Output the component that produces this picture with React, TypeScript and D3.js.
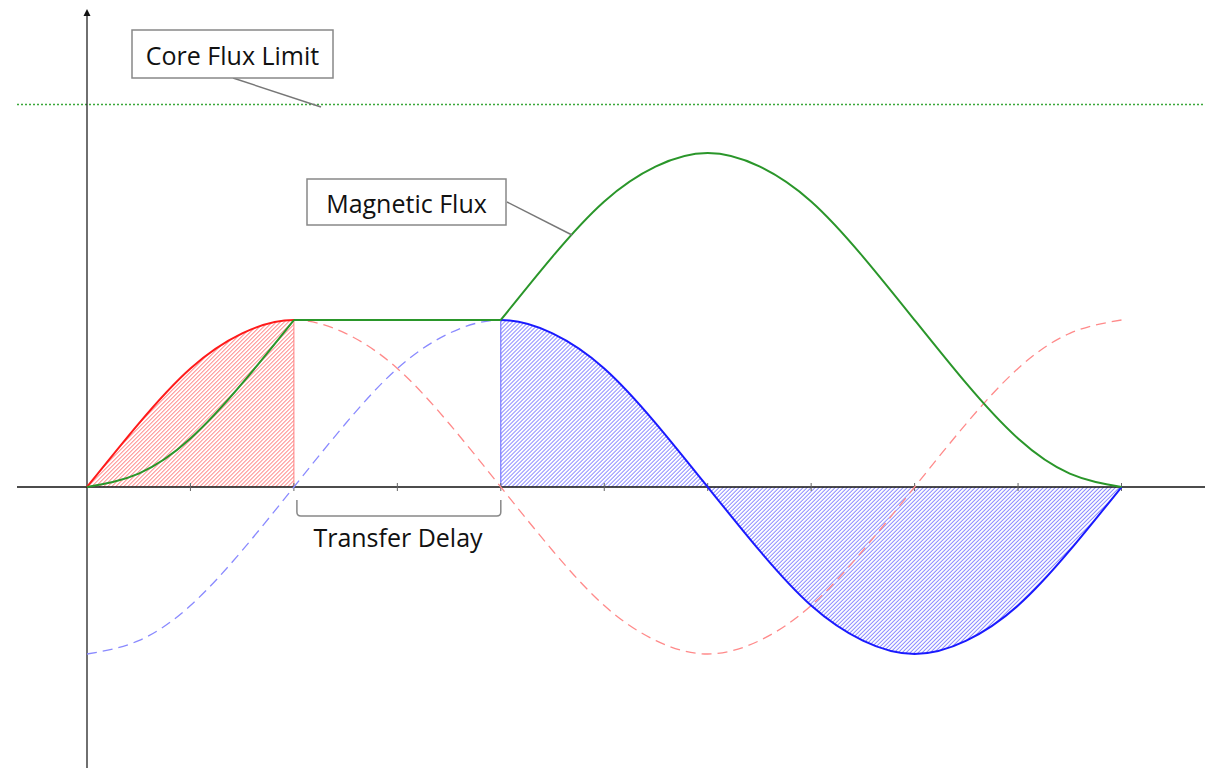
import React from "react";
import * as d3 from "d3";

// phase positions in tick units (one tick = quarter of a half-cycle, π/4)
const PHASE = [0, 0.5, 1, 1.5, 2, 2.5, 3, 3.5, 4, 4.5, 5, 5.5, 6, 6.5, 7, 7.5, 8, 8.5, 9, 9.5, 10];
const TICKS = [1, 2, 3, 4, 5, 6, 7, 8, 9, 10];
// primary voltage (red)
const RED = [0, 0.38, 0.71, 0.92, 1, 0.92, 0.71, 0.38, 0, -0.38, -0.71, -0.92, -1, -0.92, -0.71, -0.38, 0, 0.38, 0.71, 0.92, 1];
// second source (blue)
const BLUE = [-1, -0.92, -0.71, -0.38, 0, 0.38, 0.71, 0.92, 1, 0.92, 0.71, 0.38, 0, -0.38, -0.71, -0.92, -1, -0.92, -0.71, -0.38, 0];
// magnetic flux (green)
const FLUX = [0, 0.08, 0.29, 0.62, 1, 1, 1, 1, 1, 1.38, 1.71, 1.92, 2, 1.92, 1.71, 1.38, 1, 0.62, 0.29, 0.08, 0];
const CORE_LIMIT = 2.29;
const RED_SOLID_END = 2; // tick where red solid ends
const BLUE_SOLID_START = 4; // tick where blue solid starts
const LABEL_CORE = "Core Flux Limit";
const LABEL_FLUX = "Magnetic Flux";
const LABEL_DELAY = "Transfer Delay";

const W = 1205;
const H = 768;

export default function App() {
  const x = d3.scaleLinear().domain([0, 10]).range([87, 1121.5]);
  const y = d3.scaleLinear().domain([0, 1]).range([487, 320]);

  const pts = (vals: number[], i0 = 0, i1 = vals.length - 1) =>
    PHASE.slice(i0, i1 + 1).map((p, i) => [p, vals[i0 + i]] as [number, number]);

  const line = d3
    .line<[number, number]>()
    .x((d) => x(d[0]))
    .y((d) => y(d[1]))
    .curve(d3.curveNatural);
  const lineLin = d3
    .line<[number, number]>()
    .x((d) => x(d[0]))
    .y((d) => y(d[1]));
  const area = d3
    .area<[number, number]>()
    .x((d) => x(d[0]))
    .y0(y(0))
    .y1((d) => y(d[1]))
    .curve(d3.curveNatural);

  const redPath = line(pts(RED)) as string;
  const bluePath = line(pts(BLUE)) as string;
  const redArea = area(pts(RED)) as string;
  const blueArea = area(pts(BLUE)) as string;

  const i2 = PHASE.indexOf(RED_SOLID_END);
  const i4 = PHASE.indexOf(BLUE_SOLID_START);
  const flux1 = line(pts(FLUX, 0, i2)) as string;
  const flux2 = lineLin(pts(FLUX, i2, i4)) as string;
  const flux3 = line(pts(FLUX, i4)) as string;

  const x0 = x(0);
  const y0 = y(0);
  const font = "'Open Sans', 'Noto Sans', sans-serif";

  return (
    <svg
      width={W}
      height={H}
      style={{ position: "absolute", left: 0, top: 0, background: "#fff" }}
    >
      <defs>
        <pattern id="hatchRed" patternUnits="userSpaceOnUse" width={2.83} height={10} patternTransform="rotate(45)">
          <line x1={1.4} y1={0} x2={1.4} y2={10} stroke="#ff7a7a" strokeWidth={0.9} />
        </pattern>
        <pattern id="hatchBlue" patternUnits="userSpaceOnUse" width={2.83} height={10} patternTransform="rotate(45)">
          <line x1={1.4} y1={0} x2={1.4} y2={10} stroke="#7a7aff" strokeWidth={0.9} />
        </pattern>
        <clipPath id="clipRedSolid">
          <rect x={x(0) - 2} y={0} width={x(RED_SOLID_END) - x(0) + 2} height={H} />
        </clipPath>
        <clipPath id="clipRedDash">
          <rect x={x(RED_SOLID_END)} y={0} width={W} height={H} />
        </clipPath>
        <clipPath id="clipBlueDash">
          <rect x={0} y={0} width={x(BLUE_SOLID_START)} height={H} />
        </clipPath>
        <clipPath id="clipBlueSolid">
          <rect x={x(BLUE_SOLID_START)} y={0} width={x(10) - x(BLUE_SOLID_START) + 3} height={H} />
        </clipPath>
      </defs>

      {/* hatched areas */}
      <g clipPath="url(#clipRedSolid)">
        <path d={redArea} fill="url(#hatchRed)" stroke="none" />
      </g>
      <g clipPath="url(#clipBlueSolid)">
        <path d={blueArea} fill="url(#hatchBlue)" stroke="none" />
      </g>
      <line x1={x(RED_SOLID_END)} x2={x(RED_SOLID_END)} y1={y0} y2={y(1)} stroke="#ff8080" strokeWidth={1} />
      <line x1={x(BLUE_SOLID_START)} x2={x(BLUE_SOLID_START)} y1={y0} y2={y(1)} stroke="#6060ff" strokeWidth={1} />

      {/* core flux limit */}
      <line x1={17} x2={W} y1={y(CORE_LIMIT)} y2={y(CORE_LIMIT)} stroke="#3aa83a" strokeWidth={1.5} strokeDasharray="2,2" />

      {/* axes */}
      <line x1={17} x2={W} y1={y0} y2={y0} stroke="#111" strokeWidth={1.3} />
      <line x1={x0} x2={x0} y1={12} y2={H} stroke="#222" strokeWidth={1.3} />
      <path d={`M${x0},9 L${x0 - 3.5},16 L${x0 + 3.5},16 Z`} fill="#111" />
      {TICKS.map((t) => (
        <line key={t} x1={x(t)} x2={x(t)} y1={y0 - 4} y2={y0 + 4} stroke="#666" strokeWidth={1} />
      ))}

      {/* dashed continuations */}
      <g clipPath="url(#clipRedDash)">
        <path d={redPath} fill="none" stroke="#ff8a8a" strokeWidth={1.3} strokeDasharray="10,6" />
      </g>
      <g clipPath="url(#clipBlueDash)">
        <path d={bluePath} fill="none" stroke="#8a8aff" strokeWidth={1.3} strokeDasharray="10,6" />
      </g>

      {/* solid curves */}
      <g clipPath="url(#clipRedSolid)">
        <path d={redPath} fill="none" stroke="#ff1a1a" strokeWidth={2} />
      </g>
      <g clipPath="url(#clipBlueSolid)">
        <path d={bluePath} fill="none" stroke="#1a1aff" strokeWidth={2} />
      </g>

      {/* magnetic flux */}
      <path d={flux1} fill="none" stroke="#2a962a" strokeWidth={2} />
      <path d={flux2} fill="none" stroke="#2a962a" strokeWidth={2} />
      <path d={flux3} fill="none" stroke="#2a962a" strokeWidth={2} />

      {/* Core Flux Limit label */}
      <line x1={233} y1={78} x2={321} y2={107} stroke="#777" strokeWidth={1.5} />
      <rect x={132} y={30} width={201} height={48} fill="#fff" stroke="#888" strokeWidth={1.5} />
      <text x={232.5} y={65} textAnchor="middle" fontFamily={font} fontSize={25} fill="#111">
        {LABEL_CORE}
      </text>

      {/* Magnetic Flux label */}
      <line x1={507} y1={202} x2={572} y2={235} stroke="#777" strokeWidth={1.5} />
      <rect x={307} y={179} width={199} height={46} fill="#fff" stroke="#888" strokeWidth={1.5} />
      <text x={406.5} y={213} textAnchor="middle" fontFamily={font} fontSize={25} fill="#111">
        {LABEL_FLUX}
      </text>

      {/* Transfer Delay bracket */}
      <path
        d={`M${x(RED_SOLID_END) + 3},500 L${x(RED_SOLID_END) + 3},512 Q${x(RED_SOLID_END) + 3},516 ${x(RED_SOLID_END) + 7},516 L${x(BLUE_SOLID_START) - 4},516 Q${x(BLUE_SOLID_START)},516 ${x(BLUE_SOLID_START)},512 L${x(BLUE_SOLID_START)},500`}
        fill="none"
        stroke="#888"
        strokeWidth={1.5}
      />
      <text x={398} y={547} textAnchor="middle" fontFamily={font} fontSize={25} fill="#111">
        {LABEL_DELAY}
      </text>
    </svg>
  );
}
